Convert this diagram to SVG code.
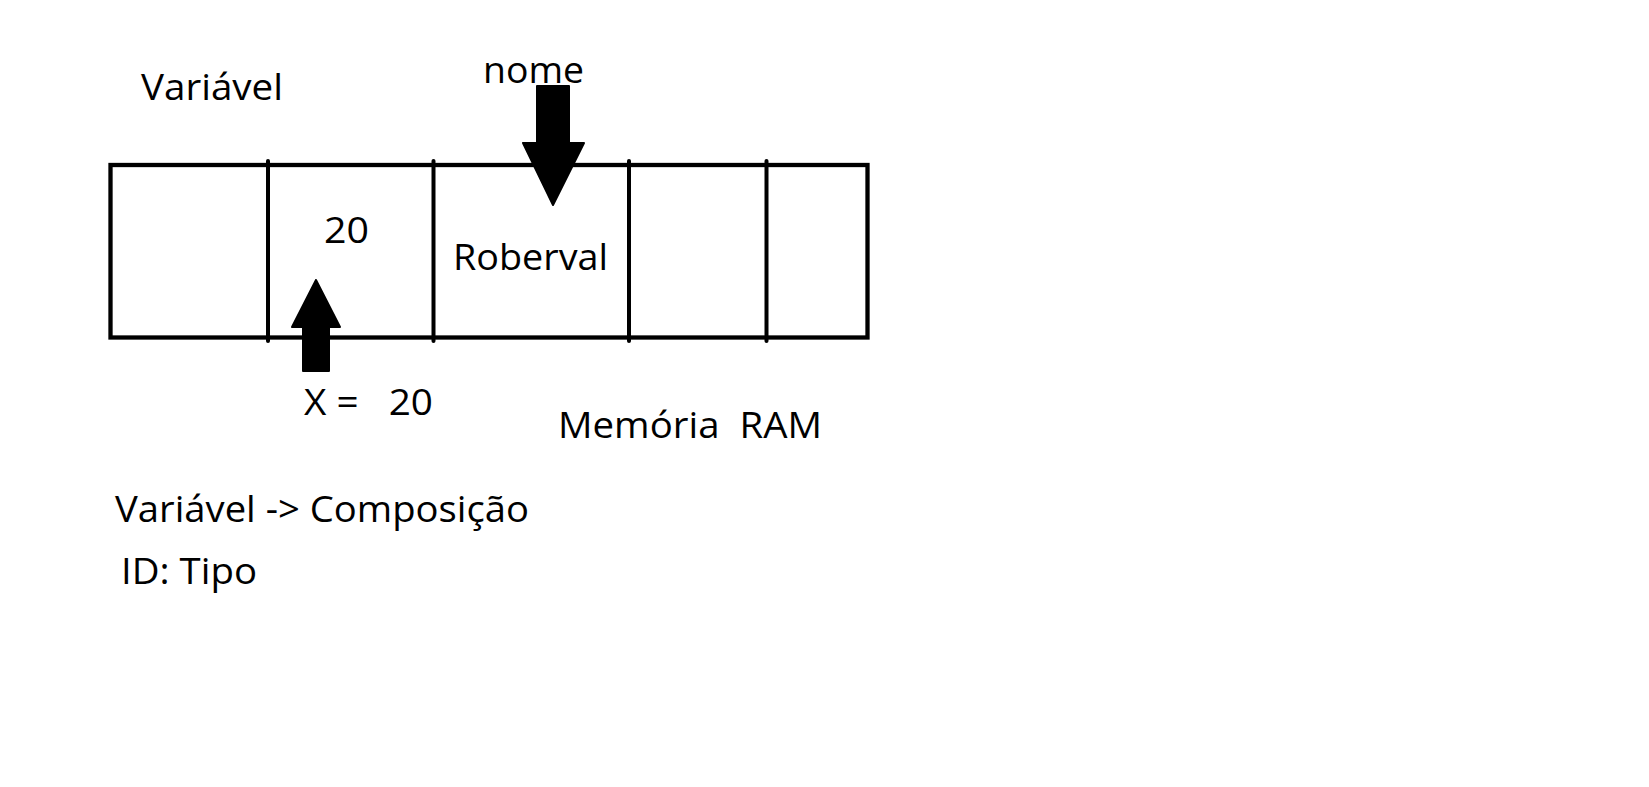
<svg xmlns="http://www.w3.org/2000/svg" width="1649" height="787" viewBox="0 0 1649 787">
<style>
.t{font-family:"Open Sans","Noto Sans",sans-serif;font-size:36px;fill:#000}
.box{fill:none;stroke:#000;stroke-width:4.3}
.div{stroke:#000;stroke-width:4;stroke-linecap:round}
.arr{fill:#000;stroke:#000;stroke-width:2;stroke-linejoin:round}
</style>
<rect width="1649" height="787" fill="#fff"/>
<g id="memory">
<rect class="box" x="110.5" y="165" width="757" height="172.5"/>
<line class="div" x1="268" y1="161" x2="268" y2="341"/>
<line class="div" x1="433.5" y1="161" x2="433.5" y2="341"/>
<line class="div" x1="629" y1="161" x2="629" y2="341"/>
<line class="div" x1="766.5" y1="161" x2="766.5" y2="341"/>
</g>
<g id="cell-20"><text class="t" x="324" y="243" textLength="45" lengthAdjust="spacingAndGlyphs">20</text></g>
<g id="cell-roberval"><text class="t" x="453" y="270" textLength="155" lengthAdjust="spacingAndGlyphs">Roberval</text></g>
<g id="label-variavel"><text class="t" x="141" y="100" textLength="142" lengthAdjust="spacingAndGlyphs">Variável</text></g>
<g id="label-nome"><text class="t" x="483" y="83" textLength="101" lengthAdjust="spacingAndGlyphs">nome</text></g>
<g id="label-x"><text class="t" x="304" y="415" xml:space="preserve" textLength="129" lengthAdjust="spacingAndGlyphs">X =   20</text></g>
<g id="label-ram"><text class="t" x="558" y="438" xml:space="preserve" textLength="264" lengthAdjust="spacingAndGlyphs">Memória  RAM</text></g>
<g id="label-composicao"><text class="t" x="115" y="522" textLength="414" lengthAdjust="spacingAndGlyphs">Variável -&gt; Composição</text></g>
<g id="label-tipo"><text class="t" x="121" y="584" textLength="136" lengthAdjust="spacingAndGlyphs">ID: Tipo</text></g>
<g id="connectors">
<polygon class="arr" points="537,86 569,86 569,143 584,143 553,205 523,143 537,143"/>
<polygon class="arr" points="303,371 329,371 329,327 340,327 316,280 292,327 303,327"/>
</g>
</svg>
